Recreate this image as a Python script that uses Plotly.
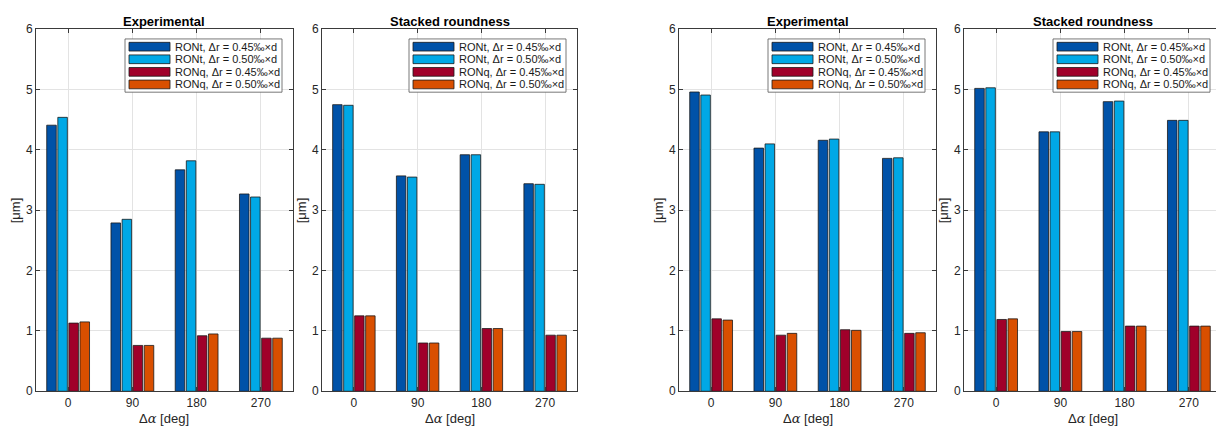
import plotly.graph_objects as go

W, H = 1216, 437

angles = ["0", "90", "180", "270"]
series_names = ["RONt, Δr = 0.45‰×d", "RONt, Δr = 0.50‰×d",
                "RONq, Δr = 0.45‰×d", "RONq, Δr = 0.50‰×d"]
series_colors = ["#0052A8", "#00A8E6", "#A0002A", "#D94F00"]
panel_titles = ["Experimental", "Stacked roundness", "Experimental", "Stacked roundness"]

# panel 1: Experimental (left pair)
p1_ront_045 = [4.41, 2.79, 3.67, 3.27]
p1_ront_050 = [4.54, 2.85, 3.82, 3.22]
p1_ronq_045 = [1.13, 0.76, 0.92, 0.88]
p1_ronq_050 = [1.15, 0.76, 0.95, 0.88]
# panel 2: Stacked roundness (left pair)
p2_ront_045 = [4.75, 3.57, 3.92, 3.44]
p2_ront_050 = [4.74, 3.55, 3.92, 3.43]
p2_ronq_045 = [1.25, 0.80, 1.04, 0.93]
p2_ronq_050 = [1.25, 0.80, 1.04, 0.93]
# panel 3: Experimental (right pair)
p3_ront_045 = [4.96, 4.03, 4.16, 3.86]
p3_ront_050 = [4.91, 4.10, 4.18, 3.87]
p3_ronq_045 = [1.20, 0.93, 1.02, 0.96]
p3_ronq_050 = [1.18, 0.96, 1.01, 0.97]
# panel 4: Stacked roundness (right pair)
p4_ront_045 = [5.02, 4.30, 4.80, 4.49]
p4_ront_050 = [5.03, 4.30, 4.81, 4.49]
p4_ronq_045 = [1.19, 0.99, 1.08, 1.08]
p4_ronq_050 = [1.20, 0.99, 1.08, 1.08]

panels = [
    [p1_ront_045, p1_ront_050, p1_ronq_045, p1_ronq_050],
    [p2_ront_045, p2_ront_050, p2_ronq_045, p2_ronq_050],
    [p3_ront_045, p3_ront_050, p3_ronq_045, p3_ronq_050],
    [p4_ront_045, p4_ront_050, p4_ronq_045, p4_ronq_050],
]

# pixel layout of axes (left, right); last panel is cropped by the image edge
ax_px = [(36, 293), (322, 577), (679, 936), (964, 1221)]
top_px, bot_px = 23, 397

FONT = "Liberation Sans, Arial, sans-serif"
AX_COL = "#3a3a3a"

fig = go.Figure()

for i, (vals, (l, r)) in enumerate(zip(panels, ax_px)):
    n = i + 1
    xa = "x" if n == 1 else f"x{n}"
    ya = "y" if n == 1 else f"y{n}"
    for j, v in enumerate(vals):
        fig.add_trace(go.Bar(
            x=angles, y=v, xaxis=xa, yaxis=ya, name=series_names[j],
            offsetgroup=str(j), showlegend=False,
            marker=dict(color=series_colors[j], line=dict(color="#1a1a1a", width=0.8)),
        ))
    vis_r = min(r, W)
    dom = [l / W, vis_r / W]
    span = 4.0 * (vis_r - l) / (r - l)
    xkey = "xaxis" if n == 1 else f"xaxis{n}"
    ykey = "yaxis" if n == 1 else f"yaxis{n}"
    fig.layout[xkey] = dict(
        domain=dom, anchor=ya, type="category", range=[-0.5, -0.5 + span],
        showline=True, linecolor=AX_COL, linewidth=0.8, mirror="ticks",
        ticks="inside", ticklen=4, tickcolor=AX_COL,
        showgrid=True, gridcolor="#e3e3e3", gridwidth=1,
        tickfont=dict(family=FONT, size=12, color="#262626"),
        zeroline=False,
    )
    fig.layout[ykey] = dict(
        domain=[1 - bot_px / H, 1 - top_px / H], anchor=xa,
        range=[0, 6], dtick=1, tick0=0,
        showline=True, linecolor=AX_COL, linewidth=0.8,
        mirror=("ticks" if r <= W else False),
        ticks="inside", ticklen=4, tickcolor=AX_COL,
        showgrid=True, gridcolor="#e3e3e3", gridwidth=1,
        tickfont=dict(family=FONT, size=12, color="#262626"),
        zeroline=False,
    )
    cx = (l + r) / 2
    # title
    fig.add_annotation(x=cx / W, y=1 - 15 / H, xref="paper", yref="paper",
                       text=f"<b>{panel_titles[i]}</b>", showarrow=False,
                       font=dict(family=FONT, size=13, color="black"),
                       xanchor="center", yanchor="middle")
    # x axis label
    fig.add_annotation(x=cx / W, y=1 - 425 / H, xref="paper", yref="paper",
                       text='Δ<span style="font-family:DejaVu Serif"><i>α</i></span> [deg]',
                       showarrow=False, font=dict(family=FONT, size=13, color="#262626"),
                       xanchor="center", yanchor="middle")
    # y axis label
    fig.add_annotation(x=(l - 21) / W, y=1 - 210 / H, xref="paper", yref="paper",
                       text="[μm]", showarrow=False, textangle=-90,
                       font=dict(family=FONT, size=13, color="#262626"),
                       xanchor="center", yanchor="middle")
    # legend box (drawn manually to get MATLAB-style long swatches)
    bx_r = r - 11
    bx_l = bx_r - 157
    fig.add_shape(type="rect", xref="paper", yref="paper",
                  x0=bx_l / W, x1=bx_r / W, y0=1 - 88 / H, y1=1 - 33 / H,
                  fillcolor="white", line=dict(color="#555555", width=0.8), layer="above")
    for j in range(4):
        cy = 41 + 13 * j
        fig.add_shape(type="rect", xref="paper", yref="paper",
                      x0=(bx_l + 4) / W, x1=(bx_l + 45) / W,
                      y0=1 - (cy + 4.5) / H, y1=1 - (cy - 4.5) / H,
                      fillcolor=series_colors[j], line=dict(color="#1a1a1a", width=0.8),
                      layer="above")
        fig.add_annotation(x=(bx_l + 48) / W, y=1 - cy / H, xref="paper", yref="paper",
                           text=series_names[j], showarrow=False,
                           font=dict(family=FONT, size=11, color="#1a1a1a"),
                           xanchor="left", yanchor="middle")

fig.update_layout(
    width=W, height=H, margin=dict(l=0, r=0, t=0, b=0),
    barmode="group", bargap=0.31, bargroupgap=0.14,
    plot_bgcolor="white", paper_bgcolor="white",
    showlegend=False,
)

fig.write_html("out.html", config={"displayModeBar": False},
               post_script="document.body.style.margin='0';document.body.style.overflow='hidden';")
